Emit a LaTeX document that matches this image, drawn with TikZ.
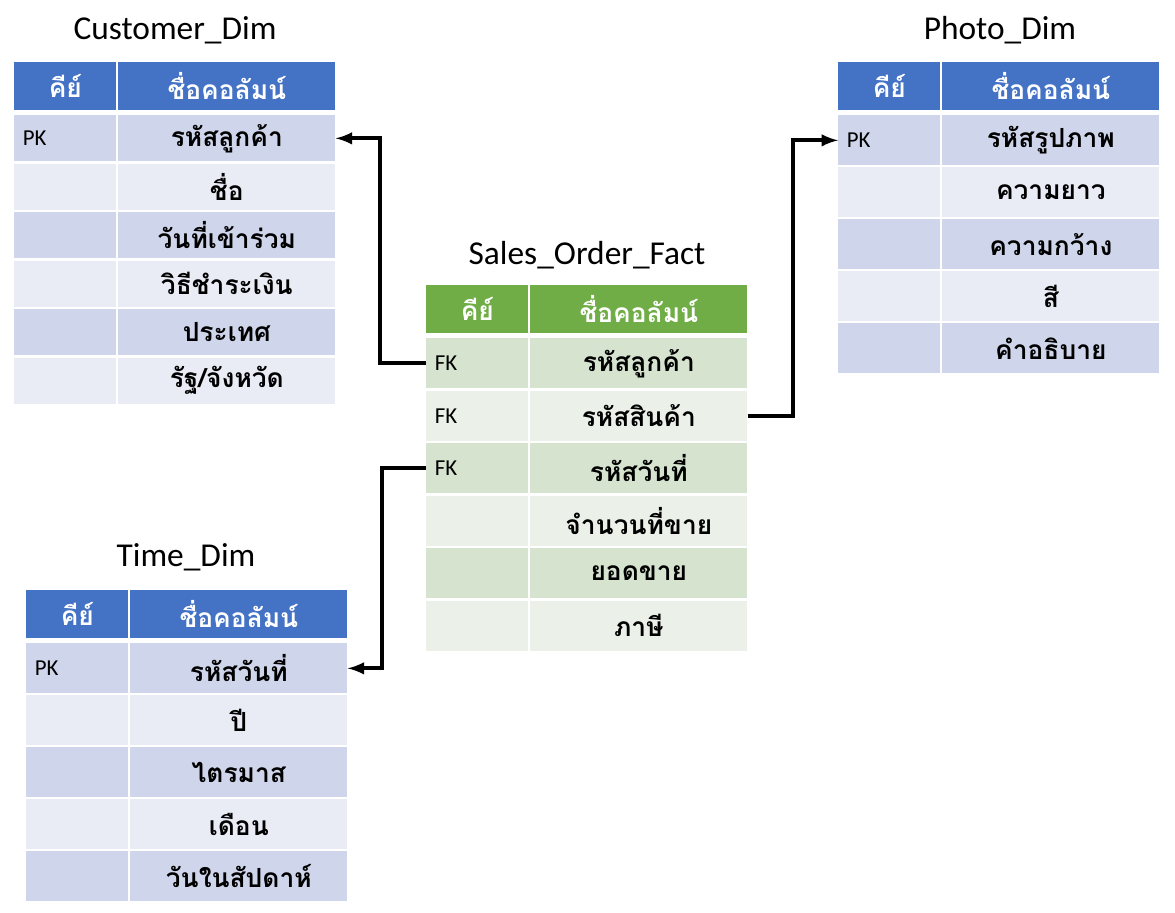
\documentclass[tikz,border=0pt]{standalone}
\usepackage{fontspec}
\setmainfont{Carlito}
\newfontfamily\thaifont[Script=Thai]{Loma}
\definecolor{bhead}{HTML}{4472C4}
\definecolor{bdark}{HTML}{CFD5EA}
\definecolor{blite}{HTML}{E9EBF5}
\definecolor{ghead}{HTML}{70AD47}
\definecolor{gdark}{HTML}{D5E3CF}
\definecolor{glite}{HTML}{EBF1E9}
\tikzset{
	cell/.style={anchor=north west, inner sep=0, draw=none, font=\fontsize{15}{18}\selectfont},
	keycell/.style={cell, minimum width=2.04cm, text width=1.7cm, align=left, font=\fontsize{13}{16}\selectfont},
	namecell/.style={cell, minimum width=4.34cm, font=\thaifont\bfseries\fontsize{15}{18}\selectfont},
	head/.style={text=white, font=\thaifont\bfseries\fontsize{15}{18}\selectfont},
	title/.style={font=\fontsize{19}{22}\selectfont},
	link/.style={line width=2.2pt, -latex}
}
\begin{document}
\begin{tikzpicture}[x=0.02cm, y=-0.02cm]
	\useasboundingbox (0,0) rectangle (1175,912);

	% Customer_Dim
	\node[title] at (175,30) {Customer\_Dim};
	\node[keycell, fill=bhead, head, minimum height=0.96cm] (chk) at (14,62) {\hfil คีย์\hfil};
	\node[namecell, fill=bhead, head, minimum height=0.96cm] (chn) at (118,62) {ชื่อคอลัมน์};
	\foreach \k/\n [count=\i] in {PK/รหัสลูกค้า, /ชื่อ, /วันที่เข้าร่วม, /วิธีชำระเงิน, /ประเทศ, /{รัฐ/จังหวัด}}{
		\ifodd\i \def\c{bdark}\else\def\c{blite}\fi
		\node[keycell, fill=\c, minimum height=0.92cm] (c\i k) at (14,{115+(\i-1)*48.5}) {\k};
		\node[namecell, fill=\c, minimum height=0.92cm] (c\i n) at (118,{115+(\i-1)*48.5}) {\n};
	}

	% Photo_Dim
	\node[title] at (1000,30) {Photo\_Dim};
	\node[keycell, fill=bhead, head, minimum height=0.96cm] (phk) at (838,62) {\hfil คีย์\hfil};
	\node[namecell, fill=bhead, head, minimum height=0.96cm] (phn) at (942,62) {ชื่อคอลัมน์};
	\foreach \k/\n [count=\i] in {PK/รหัสรูปภาพ, /ความยาว, /ความกว้าง, /สี, /คำอธิบาย}{
		\ifodd\i \def\c{bdark}\else\def\c{blite}\fi
		\node[keycell, fill=\c, minimum height=1cm] (p\i k) at (838,{115+(\i-1)*52}) {\k};
		\node[namecell, fill=\c, minimum height=1cm] (p\i n) at (942,{115+(\i-1)*52}) {\n};
	}

	% Sales_Order_Fact
	\node[title] at (587,255) {Sales\_Order\_Fact};
	\node[keycell, fill=ghead, head, minimum height=0.96cm] (fhk) at (426,285) {\hfil คีย์\hfil};
	\node[namecell, fill=ghead, head, minimum height=0.96cm] (fhn) at (530,285) {ชื่อคอลัมน์};
	\foreach \k/\n [count=\i] in {FK/รหัสลูกค้า, FK/รหัสสินค้า, FK/รหัสวันที่, /จำนวนที่ขาย, /ยอดขาย, /ภาษี}{
		\ifodd\i \def\c{gdark}\else\def\c{glite}\fi
		\node[keycell, fill=\c, minimum height=1cm] (f\i k) at (426,{338+(\i-1)*52.5}) {\k};
		\node[namecell, fill=\c, minimum height=1cm] (f\i n) at (530,{338+(\i-1)*52.5}) {\n};
	}

	% Time_Dim
	\node[title] at (186,557) {Time\_Dim};
	\node[keycell, fill=bhead, head, minimum height=0.96cm] (thk) at (26,590) {\hfil คีย์\hfil};
	\node[namecell, fill=bhead, head, minimum height=0.96cm] (thn) at (130,590) {ชื่อคอลัมน์};
	\foreach \k/\n [count=\i] in {PK/รหัสวันที่, /ปี, /ไตรมาส, /เดือน, /วันในสัปดาห์}{
		\ifodd\i \def\c{bdark}\else\def\c{blite}\fi
		\node[keycell, fill=\c, minimum height=1cm] (t\i k) at (26,{643+(\i-1)*52}) {\k};
		\node[namecell, fill=\c, minimum height=1cm] (t\i n) at (130,{643+(\i-1)*52}) {\n};
	}

	% links
	\draw[link] (f1k.west) -- ++(-46,0) |- (c1n.east);
	\draw[link] (f2n.east) -- ++(45,0) |- (p1k.west);
	\draw[link] (f3k.west) -- ++(-44,0) |- (t1n.east);
\end{tikzpicture}
\end{document}
